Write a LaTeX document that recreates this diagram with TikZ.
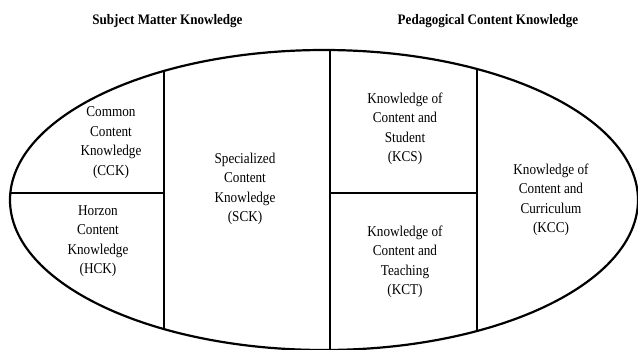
\documentclass[tikz,border=0pt]{standalone}
\usepackage{fontspec}
\setmainfont{Liberation Serif}
\begin{document}
\begin{tikzpicture}[x=1pt,y=-1pt,
  kbox/.style={align=center,inner sep=0pt,xscale=0.88,transform shape,
    font=\fontsize{15}{19.5}\selectfont},
  heading/.style={inner sep=0pt,xscale=0.9,transform shape,
    font=\fontsize{14.5}{17}\selectfont\bfseries},
  outline/.style={line width=2.2pt},
  divider/.style={line width=1.9pt}]
\useasboundingbox (0,0) rectangle (638,349);

% headings over the two halves
\node[heading] (smk) at (167.5,21) {Subject Matter Knowledge};
\node[heading] (pck) at (488,21) {Pedagogical Content Knowledge};

% outer oval and its subdivisions
\coordinate (c) at (324,200);
\begin{scope}
  \clip (c) ellipse [x radius=314pt, y radius=150pt];
  \draw[divider] (164,0) -- (164,360);
  \draw[divider] (330,0) -- (330,360);
  \draw[divider] (477,0) -- (477,360);
  \draw[divider] (0,193) -- (164,193);
  \draw[divider] (330,193) -- (477,193);
\end{scope}
\draw[outline] (c) ellipse [x radius=314pt, y radius=150pt];

% knowledge domain labels
\node[kbox] (cck) at (111,142.5) {Common\\Content\\Knowledge\\(CCK)};
\node[kbox] (hck) at (98,241) {Horzon\\Content\\Knowledge\\(HCK)};
\node[kbox] (sck) at (245,189) {Specialized\\Content\\Knowledge\\(SCK)};
\node[kbox] (kcs) at (405,129) {Knowledge of\\Content and\\Student\\(KCS)};
\node[kbox] (kct) at (405,262) {Knowledge of\\Content and\\Teaching\\(KCT)};
\node[kbox] (kcc) at (551,200) {Knowledge of\\Content and\\Curriculum\\(KCC)};
\end{tikzpicture}
\end{document}
